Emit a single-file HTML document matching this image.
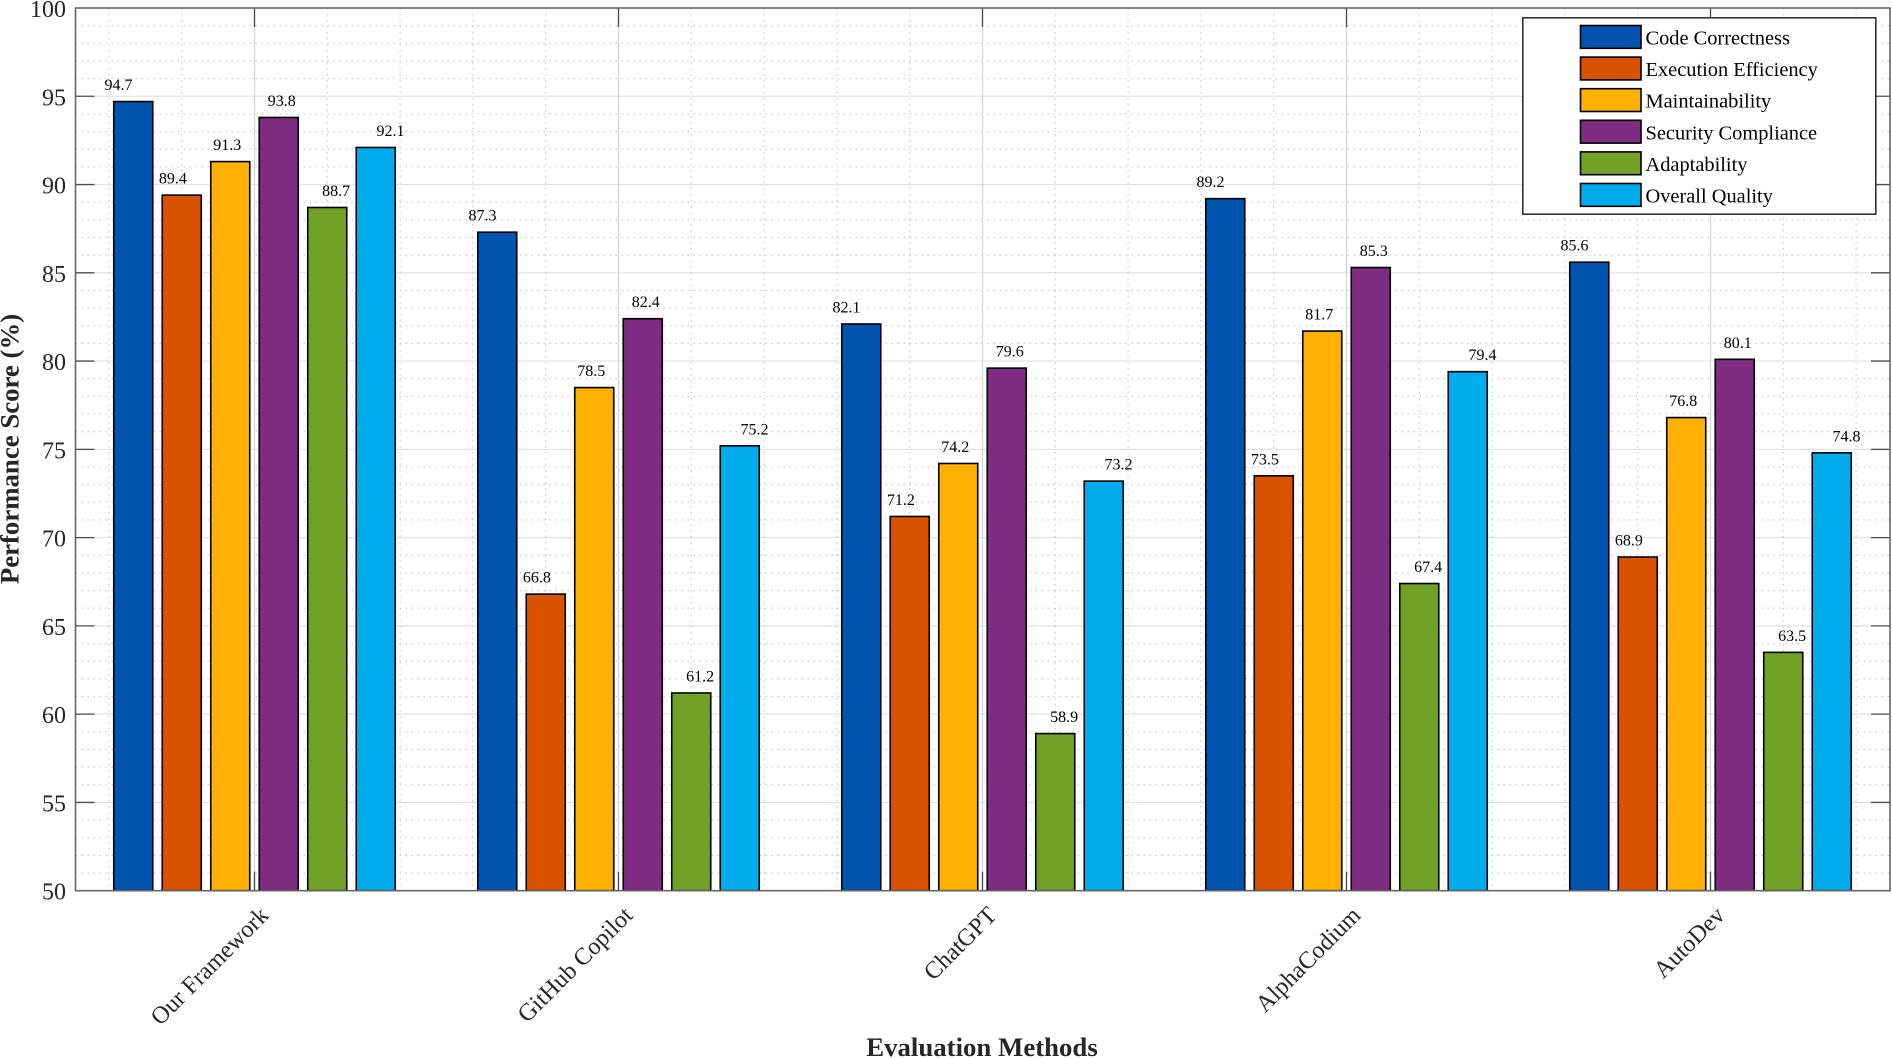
<!DOCTYPE html>
<html lang="en">
<head>
<meta charset="utf-8">
<title>Performance Score by Evaluation Method</title>
<style>
html,body{margin:0;padding:0;background:#fff;}
svg{display:block;font-family:"Liberation Serif",serif;}
.s0{fill:#0054ae}.s1{fill:#d85200}.s2{fill:#ffb000}.s3{fill:#7f2c82}.s4{fill:#72a128}.s5{fill:#00acec}
.bar{stroke:#000;stroke-width:1.6}
.major-grid-h{stroke:#e2e2e2;stroke-width:1.2}
.major-grid-v{stroke:#d4d4d4;stroke-width:1.2}
.minor-grid{stroke:#c6c6c6;stroke-width:1.1;stroke-dasharray:1.5 4.5}
.tick{stroke:#4a4a4a;stroke-width:1.3}
.box{fill:none;stroke:#666;stroke-width:1.6}
.ylab{font-size:24px;fill:#262626;text-anchor:end}
.xlab{font-size:24.2px;fill:#262626;text-anchor:end}
.val{font-size:16px;fill:#000;text-anchor:middle}
.title{font-size:26.8px;font-weight:bold;fill:#262626;text-anchor:middle}
.leg-text{font-size:20.4px;fill:#000}
</style>
</head>
<body>
<svg id="chart" xmlns="http://www.w3.org/2000/svg" width="1892" height="1058" viewBox="0 0 1892 1058"></svg>
<script>
const categories = ["Our Framework", "GitHub Copilot", "ChatGPT", "AlphaCodium", "AutoDev"];
const seriesNames = ["Code Correctness", "Execution Efficiency", "Maintainability", "Security Compliance", "Adaptability", "Overall Quality"];
const codeCorrectness = [94.7, 87.3, 82.1, 89.2, 85.6];
const executionEfficiency = [89.4, 66.8, 71.2, 73.5, 68.9];
const maintainability = [91.3, 78.5, 74.2, 81.7, 76.8];
const securityCompliance = [93.8, 82.4, 79.6, 85.3, 80.1];
const adaptability = [88.7, 61.2, 58.9, 67.4, 63.5];
const overallQuality = [92.1, 75.2, 73.2, 79.4, 74.8];
const yTickLabels = [50, 55, 60, 65, 70, 75, 80, 85, 90, 95, 100];

const allSeries = [codeCorrectness, executionEfficiency, maintainability, securityCompliance, adaptability, overallQuality];
const NS = "http://www.w3.org/2000/svg";
const svg = document.getElementById("chart");
const L = 75.5, R = 1890, T = 8, B = 890.7;
const Y_MIN = 50, Y_MAX = 100;
function yPos(v) { return B - (v - Y_MIN) / (Y_MAX - Y_MIN) * (B - T); }
function xPos(g) { return 254.5 + 364 * g; }
const BAR_W = 39, BAR_STEP = 48.5, LABEL_STEP = 54.4;
function barCenter(g, s) { return xPos(g) + (s - (allSeries.length - 1) / 2) * BAR_STEP; }
function labelCenter(g, s) { return xPos(g) + (s - (allSeries.length - 1) / 2) * LABEL_STEP; }
function make(tag, attrs, parent) {
  const el = document.createElementNS(NS, tag);
  for (const k in attrs) el.setAttribute(k, attrs[k]);
  (parent || svg).appendChild(el);
  return el;
}

// background
const plotBg = make("rect", {x: L, y: T, width: R - L, height: B - T, fill: "#fff"});



// grid
const gridGroup = make("g", {});


for (let v = Y_MIN + 1; v < Y_MAX; v++) {
  const isMajor = v % 5 === 0;
  make("line", {x1: L, x2: R, y1: yPos(v), y2: yPos(v), class: isMajor ? "major-grid-h" : "minor-grid"}, gridGroup);
}
for (let k = -2; k < 24; k++) {
  const gx = xPos(0) + k * 72.8;
  if (gx <= L + 1 || gx >= R - 1) continue;
  const isMajor = k % 5 === 0;
  make("line", {x1: gx, x2: gx, y1: T, y2: B, class: isMajor ? "major-grid-v" : "minor-grid"}, gridGroup);
}

// bars
allSeries.forEach(function (values, s) {
  const g = make("g", {});
  
  
  values.forEach(function (v, i) {
    const bar = make("rect", {
      x: barCenter(i, s) - BAR_W / 2,
      y: yPos(v),
      width: BAR_W,
      height: yPos(Y_MIN) - yPos(v),
      class: "bar s" + s
    }, g);
    
    
  });
});

// value labels
allSeries.forEach(function (values, s) {
  values.forEach(function (v, i) {
    const t = make("text", {x: labelCenter(i, s), y: yPos(v) - 11.5, class: "val"});
    t.textContent = v.toFixed(1);
    
    
  });
});

// ticks
const tickGroup = make("g", {});


yTickLabels.forEach(function (v) {
  if (v !== Y_MIN && v !== Y_MAX) {
    make("line", {x1: L, x2: L + 19, y1: yPos(v), y2: yPos(v), class: "tick"}, tickGroup);
    make("line", {x1: R - 19, x2: R, y1: yPos(v), y2: yPos(v), class: "tick"}, tickGroup);
  }
  const t = make("text", {x: 66, y: yPos(v) + 9, class: "ylab"});
  t.textContent = v;
  
  
});
categories.forEach(function (c, i) {
  make("line", {x1: xPos(i), x2: xPos(i), y1: T, y2: T + 19, class: "tick"}, tickGroup);
  make("line", {x1: xPos(i), x2: xPos(i), y1: B - 19, y2: B, class: "tick"}, tickGroup);
  const ax = xPos(i) + 15.5, ay = B + 26;
  const t = make("text", {x: ax, y: ay, class: "xlab", transform: "rotate(-45 " + ax + " " + ay + ")"});
  t.textContent = c;
  
  
});

// axes box
const box = make("rect", {x: L, y: T, width: R - L, height: B - T, class: "box"});



// axis titles
const xTitle = make("text", {x: 982, y: 1056, class: "title"});
xTitle.textContent = "Evaluation Methods";


const yTitle = make("text", {x: 18.5, y: 449, class: "title", transform: "rotate(-90 18.5 449)"});
yTitle.textContent = "Performance Score (%)";



// legend
const legend = make("g", {});


make("rect", {x: 1522.8, y: 17.8, width: 353, height: 196.4, fill: "#fff", stroke: "#333", "stroke-width": 1.6}, legend);
seriesNames.forEach(function (name, s) {
  const top = 25.5 + s * 31.6;
  const entry = make("g", {}, legend);
  
  
  make("rect", {x: 1580.5, y: top, width: 60.5, height: 22.8, class: "bar s" + s}, entry);
  const t = make("text", {x: 1645.5, y: top + 19, class: "leg-text"}, entry);
  t.textContent = name;
});
</script>
</body>
</html>
